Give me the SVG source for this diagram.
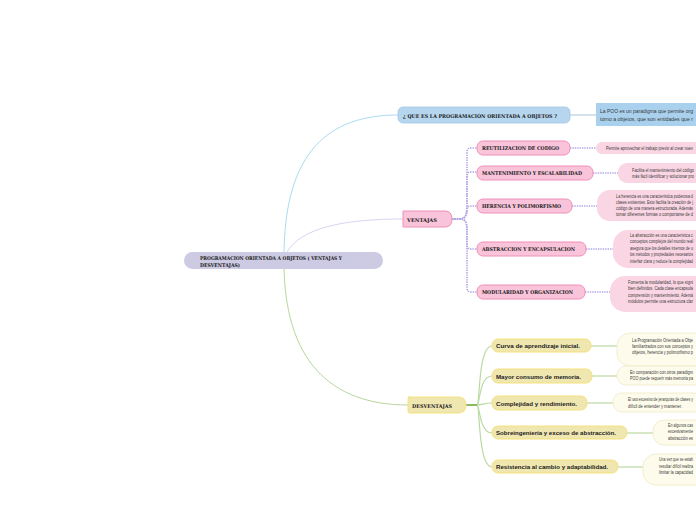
<svg xmlns="http://www.w3.org/2000/svg" width="696" height="520" viewBox="0 0 696 520">
<style>
.t{font-family:"DejaVu Serif","Liberation Serif",serif;font-weight:bold;fill:#1a1a1a}
.y{font-family:"Liberation Sans",Arial,sans-serif;font-weight:bold;fill:#222;font-size:6px}
.d{font-family:"Liberation Sans",Arial,sans-serif;fill:#3a3a3a;font-size:4.6px}
.pk{fill:#f9c4da;stroke:#ee90b9;stroke-width:1}
.pd{fill:#fad6e4}
.yl{fill:#efe6b0;stroke:#f5e27f;stroke-width:1}
.yd{fill:#fdfcec;stroke:#eeeac4;stroke-width:0.8}
.dot{fill:none;stroke:#b2a6e6;stroke-width:1.6;stroke-dasharray:1.4 1}
.gr{fill:none;stroke:#bcd9a4;stroke-width:1.2}
</style>
<rect width="696" height="520" fill="#ffffff"/>
<g id="connectors">
<path d="M284,257 C284,150 330,115 398,115" fill="none" stroke="#a9dcf2" stroke-width="1"/>
<path d="M286,254 C300,226 350,219 403,219" fill="none" stroke="#d8d4f2" stroke-width="1"/>
<path d="M284,262 C284,360 330,405 408,405" fill="none" stroke="#b8d69d" stroke-width="1"/>
<path d="M570,115 H596" fill="none" stroke="#b8cfe0" stroke-width="1.2"/>
<path class="dot" d="M452,219 H460 C466,219 467,213 467,205 V152 Q467,148 471,148 H477"/>
<path class="dot" d="M452,219 H460 C466,219 467,213 467,205 V176 Q467,172 471,172 H477"/>
<path class="dot" d="M452,219 H460 C466,219 467,214 467,210 Q467,206 471,206 H477"/>
<path class="dot" d="M452,219 H460 C466,219 467,224 467,230 V245 Q467,249 471,249 H477"/>
<path class="dot" d="M452,219 H460 C466,219 467,224 467,230 V288 Q467,292 471,292 H477"/>
<path class="dot" d="M570,148 H596"/>
<path class="dot" d="M593,173 H618"/>
<path class="dot" d="M572,206 H597"/>
<path class="dot" d="M586,249 H613"/>
<path class="dot" d="M585,292 H610"/>
<path d="M466,405 H477" fill="none" stroke="#6aa83c" stroke-width="1.6"/>
<path class="gr" d="M477,405 C480,405 478,346 492,346"/>
<path class="gr" d="M477,405 C480,405 479,376 492,376"/>
<path class="gr" d="M477,405 C482,405 484,403 492,403"/>
<path class="gr" d="M477,405 C480,405 479,433 492,433"/>
<path class="gr" d="M477,405 C480,405 478,467 492,467"/>
<path class="gr" d="M591,346 H617"/>
<path class="gr" d="M592,376 H617"/>
<path class="gr" d="M587,403 H613"/>
<path class="gr" d="M627,433 H653"/>
<path class="gr" d="M618,467 H643"/>
</g>
<g id="root">
<rect x="184" y="252" width="199" height="17" rx="8.5" fill="#cdcae3"/>
<text class="t" font-size="5" x="200" y="260" textLength="142" lengthAdjust="spacingAndGlyphs">PROGRAMACION ORIENTADA A OBJETOS ( VENTAJAS Y</text>
<text class="t" font-size="5" x="200" y="266.5" textLength="40" lengthAdjust="spacingAndGlyphs">DESVENTAJAS)</text>
</g>
<g id="que-es">
<rect x="398" y="107" width="172" height="16" rx="5" fill="#b6d5ee" stroke="#a2c8e6" stroke-width="0.8"/>
<text class="t" font-size="5.2" x="403" y="117.5" textLength="154" lengthAdjust="spacingAndGlyphs">¿ QUE ES LA PROGRAMACIÓN ORIENTADA A OBJETOS ?</text>
</g>
<g id="que-es-desc">
<rect x="596" y="103" width="110" height="23" fill="#a9d1ee"/>
<text class="d" font-size="5.4" x="600" y="113" textLength="93" lengthAdjust="spacingAndGlyphs">La POO es un paradigma que permite org</text>
<text class="d" font-size="5.4" x="600" y="120.5" textLength="93" lengthAdjust="spacingAndGlyphs">torno a objetos, que son entidades que r</text>
</g>
<g id="ventajas">
<path class="pk" d="M403,211 H445 Q452,211 452,219 Q452,227 445,227 H403 Z"/>
<text class="t" font-size="5.2" x="407" y="221.5" textLength="30" lengthAdjust="spacingAndGlyphs">VENTAJAS</text>
</g>
<g id="reutilizacion">
<rect class="pk" x="477" y="141" width="93" height="14" rx="6"/>
<text class="t" font-size="5" x="482" y="150" textLength="77" lengthAdjust="spacingAndGlyphs">REUTILIZACION DE CODIGO</text>
</g>
<g id="reutilizacion-desc">
<rect class="pd" x="596" y="142" width="120" height="12" rx="6"/>
<text class="d" x="606" y="150" textLength="87" lengthAdjust="spacingAndGlyphs">Permite aprovechar el trabajo previo al crear nuev</text>
</g>
<g id="mantenimiento">
<rect class="pk" x="477" y="166" width="116" height="14" rx="6"/>
<text class="t" font-size="5" x="482" y="175" textLength="100" lengthAdjust="spacingAndGlyphs">MANTENIMIENTO Y ESCALABILIDAD</text>
</g>
<g id="mantenimiento-desc">
<rect class="pd" x="618" y="163" width="100" height="20" rx="9"/>
<text class="d" x="632" y="171.5" textLength="62" lengthAdjust="spacingAndGlyphs">Facilita el mantenimiento del código</text>
<text class="d" x="632" y="177.5" textLength="62" lengthAdjust="spacingAndGlyphs">más fácil identificar y solucionar pro</text>
</g>
<g id="herencia">
<rect class="pk" x="477" y="199" width="95" height="14" rx="6"/>
<text class="t" font-size="5" x="482" y="208" textLength="79" lengthAdjust="spacingAndGlyphs">HERENCIA Y POLIMORFISMO</text>
</g>
<g id="herencia-desc">
<rect class="pd" x="597" y="190" width="120" height="31" rx="13"/>
<text class="d" x="616" y="198" textLength="77" lengthAdjust="spacingAndGlyphs">La herencia es una característica poderosa d</text>
<text class="d" x="616" y="204" textLength="77" lengthAdjust="spacingAndGlyphs">clases existentes. Esto facilita la creación de j</text>
<text class="d" x="616" y="210" textLength="77" lengthAdjust="spacingAndGlyphs">código de una manera estructurada. Además</text>
<text class="d" x="616" y="216" textLength="77" lengthAdjust="spacingAndGlyphs">tomar diferentes formas o comportarse de d</text>
</g>
<g id="abstraccion">
<rect class="pk" x="477" y="242" width="109" height="14" rx="6"/>
<text class="t" font-size="5" x="482" y="251" textLength="93" lengthAdjust="spacingAndGlyphs">ABSTRACCION Y ENCAPSULACION</text>
</g>
<g id="abstraccion-desc">
<rect class="pd" x="613" y="230" width="110" height="38" rx="15"/>
<text class="d" x="630" y="237" textLength="63" lengthAdjust="spacingAndGlyphs">La abstracción es una característica c</text>
<text class="d" x="630" y="243" textLength="63" lengthAdjust="spacingAndGlyphs">conceptos complejos del mundo real</text>
<text class="d" x="630" y="249.5" textLength="63" lengthAdjust="spacingAndGlyphs">asegura que los detalles internos de u</text>
<text class="d" x="630" y="256" textLength="63" lengthAdjust="spacingAndGlyphs">los métodos y propiedades necesarios</text>
<text class="d" x="630" y="262.5" textLength="63" lengthAdjust="spacingAndGlyphs">interfaz clara y reduce la complejidad</text>
</g>
<g id="modularidad">
<rect class="pk" x="477" y="285" width="108" height="14" rx="6"/>
<text class="t" font-size="5" x="482" y="294" textLength="91" lengthAdjust="spacingAndGlyphs">MODULARIDAD Y ORGANIZACION</text>
</g>
<g id="modularidad-desc">
<rect class="pd" x="610" y="276" width="110" height="36" rx="15"/>
<text class="d" x="628" y="283.5" textLength="65" lengthAdjust="spacingAndGlyphs">Fomenta la modularidad, lo que signi</text>
<text class="d" x="628" y="290" textLength="65" lengthAdjust="spacingAndGlyphs">bien definidos. Cada clase encapsula</text>
<text class="d" x="628" y="296.5" textLength="65" lengthAdjust="spacingAndGlyphs">comprensión y mantenimiento. Ademá</text>
<text class="d" x="628" y="303" textLength="65" lengthAdjust="spacingAndGlyphs">módulos permite una estructura clar</text>
</g>
<g id="desventajas">
<path class="yl" d="M408,397 H458 Q466,397 466,405 Q466,413 458,413 H410 Q408,413 408,411 V399 Q408,397 410,397 Z"/>
<text class="t" font-size="5.2" x="412" y="407.5" textLength="40" lengthAdjust="spacingAndGlyphs">DESVENTAJAS</text>
</g>
<g id="curva">
<rect class="yl" x="492" y="339" width="99" height="13" rx="6"/>
<text class="y" x="496" y="348" textLength="84" lengthAdjust="spacingAndGlyphs">Curva de aprendizaje inicial.</text>
</g>
<g id="curva-desc">
<rect class="yd" x="617" y="333" width="100" height="33" rx="13"/>
<text class="d" x="632" y="342" textLength="61" lengthAdjust="spacingAndGlyphs">La Programación Orientada a Obje</text>
<text class="d" x="632" y="348" textLength="61" lengthAdjust="spacingAndGlyphs">familiarizados con sus conceptos y</text>
<text class="d" x="632" y="354" textLength="61" lengthAdjust="spacingAndGlyphs">objetos, herencia y polimorfismo p</text>
</g>
<g id="memoria">
<rect class="yl" x="492" y="369" width="100" height="14" rx="6"/>
<text class="y" x="496" y="378.5" textLength="85" lengthAdjust="spacingAndGlyphs">Mayor consumo de memoria.</text>
</g>
<g id="memoria-desc">
<rect class="yd" x="617" y="366" width="100" height="19" rx="9"/>
<text class="d" x="630" y="374" textLength="63" lengthAdjust="spacingAndGlyphs">En comparación con otros paradigm</text>
<text class="d" x="630" y="380" textLength="63" lengthAdjust="spacingAndGlyphs">POO puede requerir más memoria pa</text>
</g>
<g id="complejidad">
<rect class="yl" x="492" y="396" width="95" height="14" rx="6"/>
<text class="y" x="496" y="405.5" textLength="81" lengthAdjust="spacingAndGlyphs">Complejidad y rendimiento.</text>
</g>
<g id="complejidad-desc">
<rect class="yd" x="613" y="393" width="100" height="19" rx="9"/>
<text class="d" x="628" y="401" textLength="65" lengthAdjust="spacingAndGlyphs">El uso excesivo de jerarquías de clases y</text>
<text class="d" x="628" y="407.5" textLength="54" lengthAdjust="spacingAndGlyphs">difícil de entender y mantener.</text>
</g>
<g id="sobreingenieria">
<rect class="yl" x="492" y="426" width="135" height="13" rx="6"/>
<text class="y" x="496" y="435" textLength="120" lengthAdjust="spacingAndGlyphs">Sobreingeniería y exceso de abstracción.</text>
</g>
<g id="sobreingenieria-desc">
<rect class="yd" x="653" y="420" width="70" height="25" rx="11"/>
<text class="d" x="668" y="427" textLength="25" lengthAdjust="spacingAndGlyphs">En algunos cas</text>
<text class="d" x="668" y="433" textLength="25" lengthAdjust="spacingAndGlyphs">excesivamente</text>
<text class="d" x="668" y="439.5" textLength="25" lengthAdjust="spacingAndGlyphs">abstracción es</text>
</g>
<g id="resistencia">
<rect class="yl" x="492" y="460" width="126" height="13" rx="6"/>
<text class="y" x="496" y="469" textLength="112" lengthAdjust="spacingAndGlyphs">Resistencia al cambio y adaptabilidad.</text>
</g>
<g id="resistencia-desc">
<rect class="yd" x="643" y="454" width="80" height="31" rx="13"/>
<text class="d" x="659" y="461" textLength="34" lengthAdjust="spacingAndGlyphs">Una vez que se estab</text>
<text class="d" x="659" y="467.5" textLength="34" lengthAdjust="spacingAndGlyphs">resultar difícil realiza</text>
<text class="d" x="659" y="474" textLength="34" lengthAdjust="spacingAndGlyphs">limitar la capacidad</text>
</g>
</svg>
